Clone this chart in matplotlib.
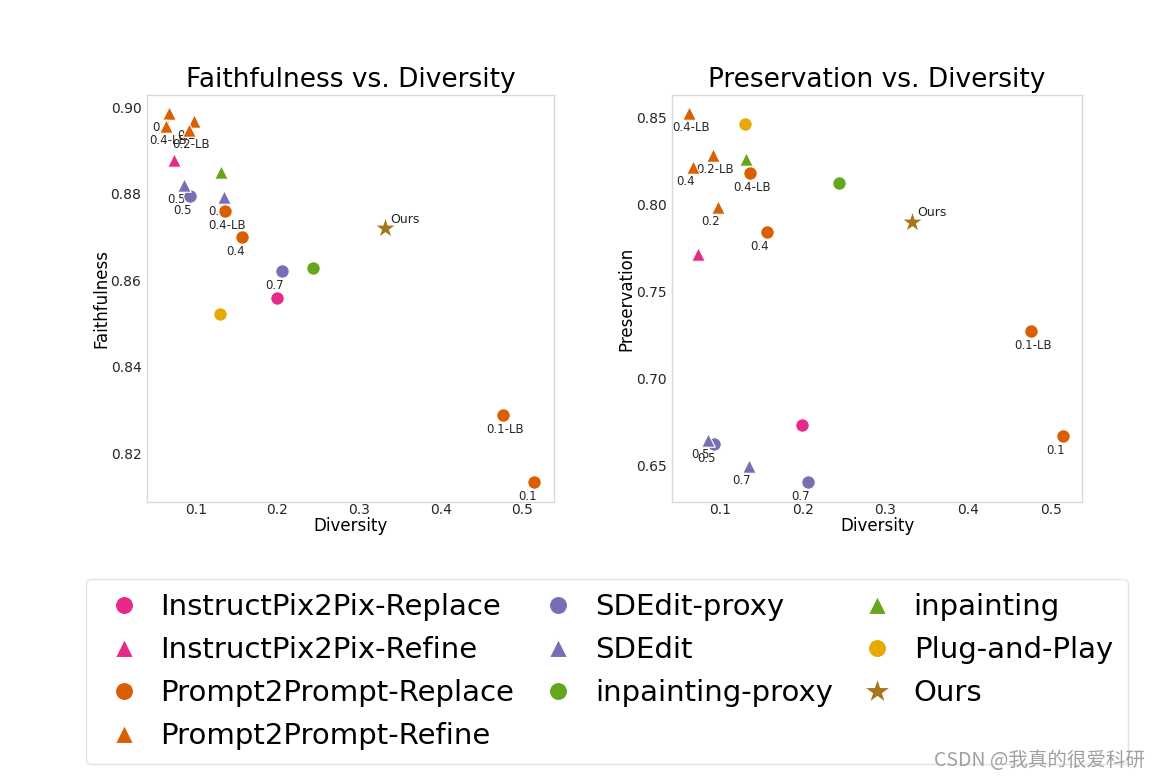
import matplotlib
matplotlib.use("Agg")
import matplotlib.pyplot as plt
from matplotlib.lines import Line2D

# ---------------- data ----------------
methods = ["InstructPix2Pix-Replace", "InstructPix2Pix-Refine",
           "Prompt2Prompt-Replace", "Prompt2Prompt-Refine",
           "SDEdit-proxy", "SDEdit", "inpainting-proxy", "inpainting",
           "Plug-and-Play", "Ours"]

ip2p_replace_div = [0.199]
ip2p_replace_faith = [0.8558]
ip2p_replace_pres = [0.6735]
ip2p_replace_lbl = [""]

ip2p_refine_div = [0.073]
ip2p_refine_faith = [0.8877]
ip2p_refine_pres = [0.7718]
ip2p_refine_lbl = [""]

p2p_replace_div = [0.515, 0.476, 0.157, 0.136]
p2p_replace_faith = [0.8133, 0.8288, 0.8699, 0.8760]
p2p_replace_pres = [0.6672, 0.7275, 0.7845, 0.8184]
p2p_replace_lbl = ["0.1", "0.1-LB", "0.4", "0.4-LB"]

p2p_refine_div = [0.067, 0.063, 0.098, 0.091]
p2p_refine_faith = [0.8986, 0.8956, 0.8968, 0.8947]
p2p_refine_pres = [0.8218, 0.8529, 0.7988, 0.8287]
p2p_refine_lbl = ["0.4", "0.4-LB", "0.2", "0.2-LB"]

sdedit_proxy_div = [0.093, 0.206]
sdedit_proxy_faith = [0.8794, 0.8621]
sdedit_proxy_pres = [0.6626, 0.6407]
sdedit_proxy_lbl = ["0.5", "0.7"]

sdedit_div = [0.085, 0.135]
sdedit_faith = [0.8820, 0.8792]
sdedit_pres = [0.6649, 0.6500]
sdedit_lbl = ["0.5", "0.7"]

inpaint_proxy_div = [0.244]
inpaint_proxy_faith = [0.8628]
inpaint_proxy_pres = [0.8126]
inpaint_proxy_lbl = [""]

inpaint_div = [0.131]
inpaint_faith = [0.8850]
inpaint_pres = [0.8264]
inpaint_lbl = [""]

pnp_div = [0.130]
pnp_faith = [0.8522]
pnp_pres = [0.8466]
pnp_lbl = [""]

ours_div = [0.332]
ours_faith = [0.8720]
ours_pres = [0.7902]
ours_lbl = ["Ours"]

x_ticks = [0.1, 0.2, 0.3, 0.4, 0.5]
faith_ticks = [0.82, 0.84, 0.86, 0.88, 0.90]
pres_ticks = [0.65, 0.70, 0.75, 0.80, 0.85]

# ---------------- styles ----------------
colors = ["#e7298a", "#e7298a", "#d95f02", "#d95f02", "#7570b3", "#7570b3",
          "#66a61e", "#66a61e", "#e6ab02", "#a6761d"]
markers = ["o", "^", "o", "^", "o", "^", "o", "^", "o", "*"]

divs = [ip2p_replace_div, ip2p_refine_div, p2p_replace_div, p2p_refine_div,
        sdedit_proxy_div, sdedit_div, inpaint_proxy_div, inpaint_div, pnp_div, ours_div]
faiths = [ip2p_replace_faith, ip2p_refine_faith, p2p_replace_faith, p2p_refine_faith,
          sdedit_proxy_faith, sdedit_faith, inpaint_proxy_faith, inpaint_faith, pnp_faith, ours_faith]
press = [ip2p_replace_pres, ip2p_refine_pres, p2p_replace_pres, p2p_refine_pres,
         sdedit_proxy_pres, sdedit_pres, inpaint_proxy_pres, inpaint_pres, pnp_pres, ours_pres]
lbls = [ip2p_replace_lbl, ip2p_refine_lbl, p2p_replace_lbl, p2p_refine_lbl,
        sdedit_proxy_lbl, sdedit_lbl, inpaint_proxy_lbl, inpaint_lbl, pnp_lbl, ours_lbl]

plt.rcParams['font.family'] = ['DejaVu Sans']

fig = plt.figure(figsize=(11.6, 7.79), dpi=100)
ax1 = fig.add_axes([147/1160, 1-502/779, (554-147)/1160, 407/779])
ax2 = fig.add_axes([672/1160, 1-502/779, (1082-672)/1160, 407/779])

spine_col = "#d9d9d9"

def draw(ax, ys, title, ylabel, yticks, xlim, ylim):
    for i in range(len(methods)):
        s = 260 if markers[i] == "*" else 95
        ax.scatter(divs[i], ys[i], c=colors[i], marker=markers[i], s=s,
                   edgecolors="white", linewidths=0.8, zorder=3)
        for x, y, t in zip(divs[i], ys[i], lbls[i]):
            if not t:
                continue
            if t == "Ours":
                ax.annotate(t, (x, y), xytext=(4, 4), textcoords="offset points",
                            ha="left", va="baseline", fontsize=9, color="#262626", zorder=2)
            else:
                ax.annotate(t, (x, y), xytext=(-12, -13), textcoords="offset points",
                            ha="left", va="baseline", fontsize=8.5, color="#262626", zorder=2)
    ax.set_xlim(*xlim)
    ax.set_ylim(*ylim)
    ax.set_xticks(x_ticks)
    ax.set_xticklabels([f"{v:.1f}" for v in x_ticks])
    ax.set_yticks(yticks)
    ax.set_yticklabels([f"{v:.2f}" for v in yticks])
    ax.tick_params(length=0, labelsize=10, colors="#262626")
    ax.tick_params(axis="x", pad=1)
    ax.tick_params(axis="y", pad=4)
    ax.set_title(title, fontsize=19, pad=6)
    ax.set_xlabel("Diversity", fontsize=12, labelpad=0)
    ax.set_ylabel(ylabel, fontsize=12, labelpad=0)
    for sp in ax.spines.values():
        sp.set_color(spine_col)
        sp.set_linewidth(1.0)

draw(ax1, faiths, "Faithfulness vs. Diversity", "Faithfulness", faith_ticks,
     (0.040, 0.539), (0.8087, 0.9028))
draw(ax2, press, "Preservation vs. Diversity", "Preservation", pres_ticks,
     (0.042, 0.538), (0.6293, 0.8632))

handles = []
for i, m in enumerate(methods):
    ms = 19 if markers[i] == "*" else 13
    handles.append(Line2D([], [], linestyle="none", marker=markers[i], color=colors[i],
                          markersize=ms, markeredgecolor="white", markeredgewidth=0.8))

leg = fig.legend(handles, methods, loc="center", bbox_to_anchor=(0.523, 0.138),
                 ncol=3, fontsize=21, handlelength=1.6, handletextpad=0.45,
                 columnspacing=0.72, borderpad=0.5, labelspacing=0.51,
                 frameon=True, fancybox=True)
leg.get_frame().set_edgecolor("#dddddd")
leg.get_frame().set_linewidth(1.0)

fig.text(1145/1160, 1-760/779, "CSDN @我真的很爱科研", ha="right", va="center",
         fontsize=14, color="#a0a0a0", family=["Noto Sans CJK SC", "DejaVu Sans"],
         zorder=20)

fig.savefig("out.png", dpi=100)
